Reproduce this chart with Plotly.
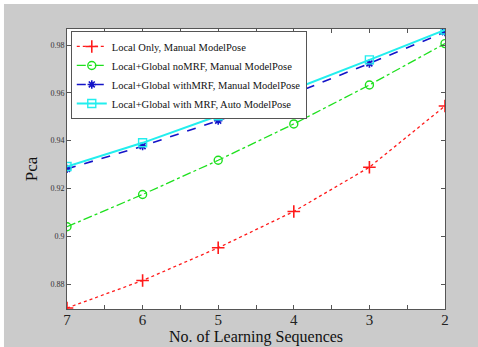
import plotly.graph_objects as go

# Data
seq_counts = [7, 6, 5, 4, 3, 2]
local_only = [0.8700, 0.8815, 0.8952, 0.9104, 0.9289, 0.9545]
global_nomrf = [0.9040, 0.9175, 0.9318, 0.9470, 0.9633, 0.9806]
global_withmrf = [0.9282, 0.9377, 0.9484, 0.9597, 0.9723, 0.9854]
global_auto = [0.9292, 0.9391, 0.9504, 0.9615, 0.9738, 0.9863]

series_names = [
    "Local Only, Manual ModelPose",
    "Local+Global noMRF, Manual ModelPose",
    "Local+Global withMRF, Manual ModelPose",
    "Local+Global with MRF, Auto ModelPose",
]

x_tickvals = [7, 6.5, 6, 5.5, 5, 4.5, 4, 3.5, 3, 2.5, 2]
x_ticktext = ["7", "", "6", "", "5", "", "4", "", "3", "", "2"]
y_tickvals = [0.88, 0.90, 0.92, 0.94, 0.96, 0.98]
y_ticktext = ["0.88", "0.9", "0.92", "0.94", "0.96", "0.98"]

SERIF = "Liberation Serif"

fig = go.Figure()
fig.add_trace(go.Scatter(
    x=seq_counts, y=local_only, name=series_names[0], mode="lines+markers",
    line=dict(color="#ff1a1a", width=1.3, dash="dot"),
    marker=dict(symbol="cross-thin-open", size=9, color="#ff1a1a", line=dict(width=1.6, color="#ff1a1a")),
))
fig.add_trace(go.Scatter(
    x=seq_counts, y=global_nomrf, name=series_names[1], mode="lines+markers",
    line=dict(color="#1ee01e", width=1.3, dash="dashdot"),
    marker=dict(symbol="circle-open", size=8, color="#1ee01e", line=dict(width=1.4, color="#1ee01e")),
))
fig.add_trace(go.Scatter(
    x=seq_counts, y=global_withmrf, name=series_names[2], mode="lines+markers",
    line=dict(color="#1414c8", width=1.6, dash="dash"),
    marker=dict(symbol="asterisk-open", size=7, color="#1414c8", line=dict(width=1.6, color="#1414c8")),
))
fig.add_trace(go.Scatter(
    x=seq_counts, y=global_auto, name=series_names[3], mode="lines+markers",
    line=dict(color="#22eeee", width=2),
    marker=dict(symbol="square-open", size=8, color="#22eeee", line=dict(width=1.4, color="#22eeee")),
))

# background: thin white strip at top/left, gray figure, white axes area
fig.add_shape(type="rect", xref="paper", yref="paper", layer="below",
              x0=-0.1667, x1=1.09, y0=-0.14, y1=1.089,
              fillcolor="#cbcbcb", line=dict(width=0))
fig.add_shape(type="rect", xref="paper", yref="paper", layer="below",
              x0=0, x1=1, y0=0, y1=1,
              fillcolor="white", line=dict(width=0))

axis_common = dict(
    showgrid=False, zeroline=False, showline=True, linecolor="#555555", linewidth=1,
    ticks="inside", ticklen=4, tickcolor="#555555", mirror="ticks",
)

fig.update_xaxes(
    range=[7, 2], tickvals=x_tickvals, ticktext=x_ticktext,
    tickfont=dict(family=SERIF, size=15, color="#222222"), ticklabelstandoff=-3,
    title=dict(text="No. of Learning Sequences", font=dict(family=SERIF, size=16, color="#111111"), standoff=0),
    **axis_common,
)
fig.update_yaxes(
    range=[0.8696, 0.9867], tickvals=y_tickvals, ticktext=y_ticktext,
    tickfont=dict(family=SERIF, size=8, color="#333333"),
    title=dict(text="Pca", font=dict(family=SERIF, size=17, color="#111111"), standoff=8),
    **axis_common,
)

fig.update_layout(
    width=478, height=347,
    margin=dict(l=67, r=33, t=29, b=38, autoexpand=False),
    paper_bgcolor="white", plot_bgcolor="white",
    showlegend=True,
    legend=dict(
        x=0.01, y=0.993, xanchor="left", yanchor="top",
        bgcolor="white", bordercolor="#555555", borderwidth=1,
        font=dict(family=SERIF, size=10.5, color="#111111"),
        tracegroupgap=0, itemwidth=30,
    ),
)

fig.write_html("out.html", config={"displayModeBar": False},
               post_script="document.body.style.margin='0';")
